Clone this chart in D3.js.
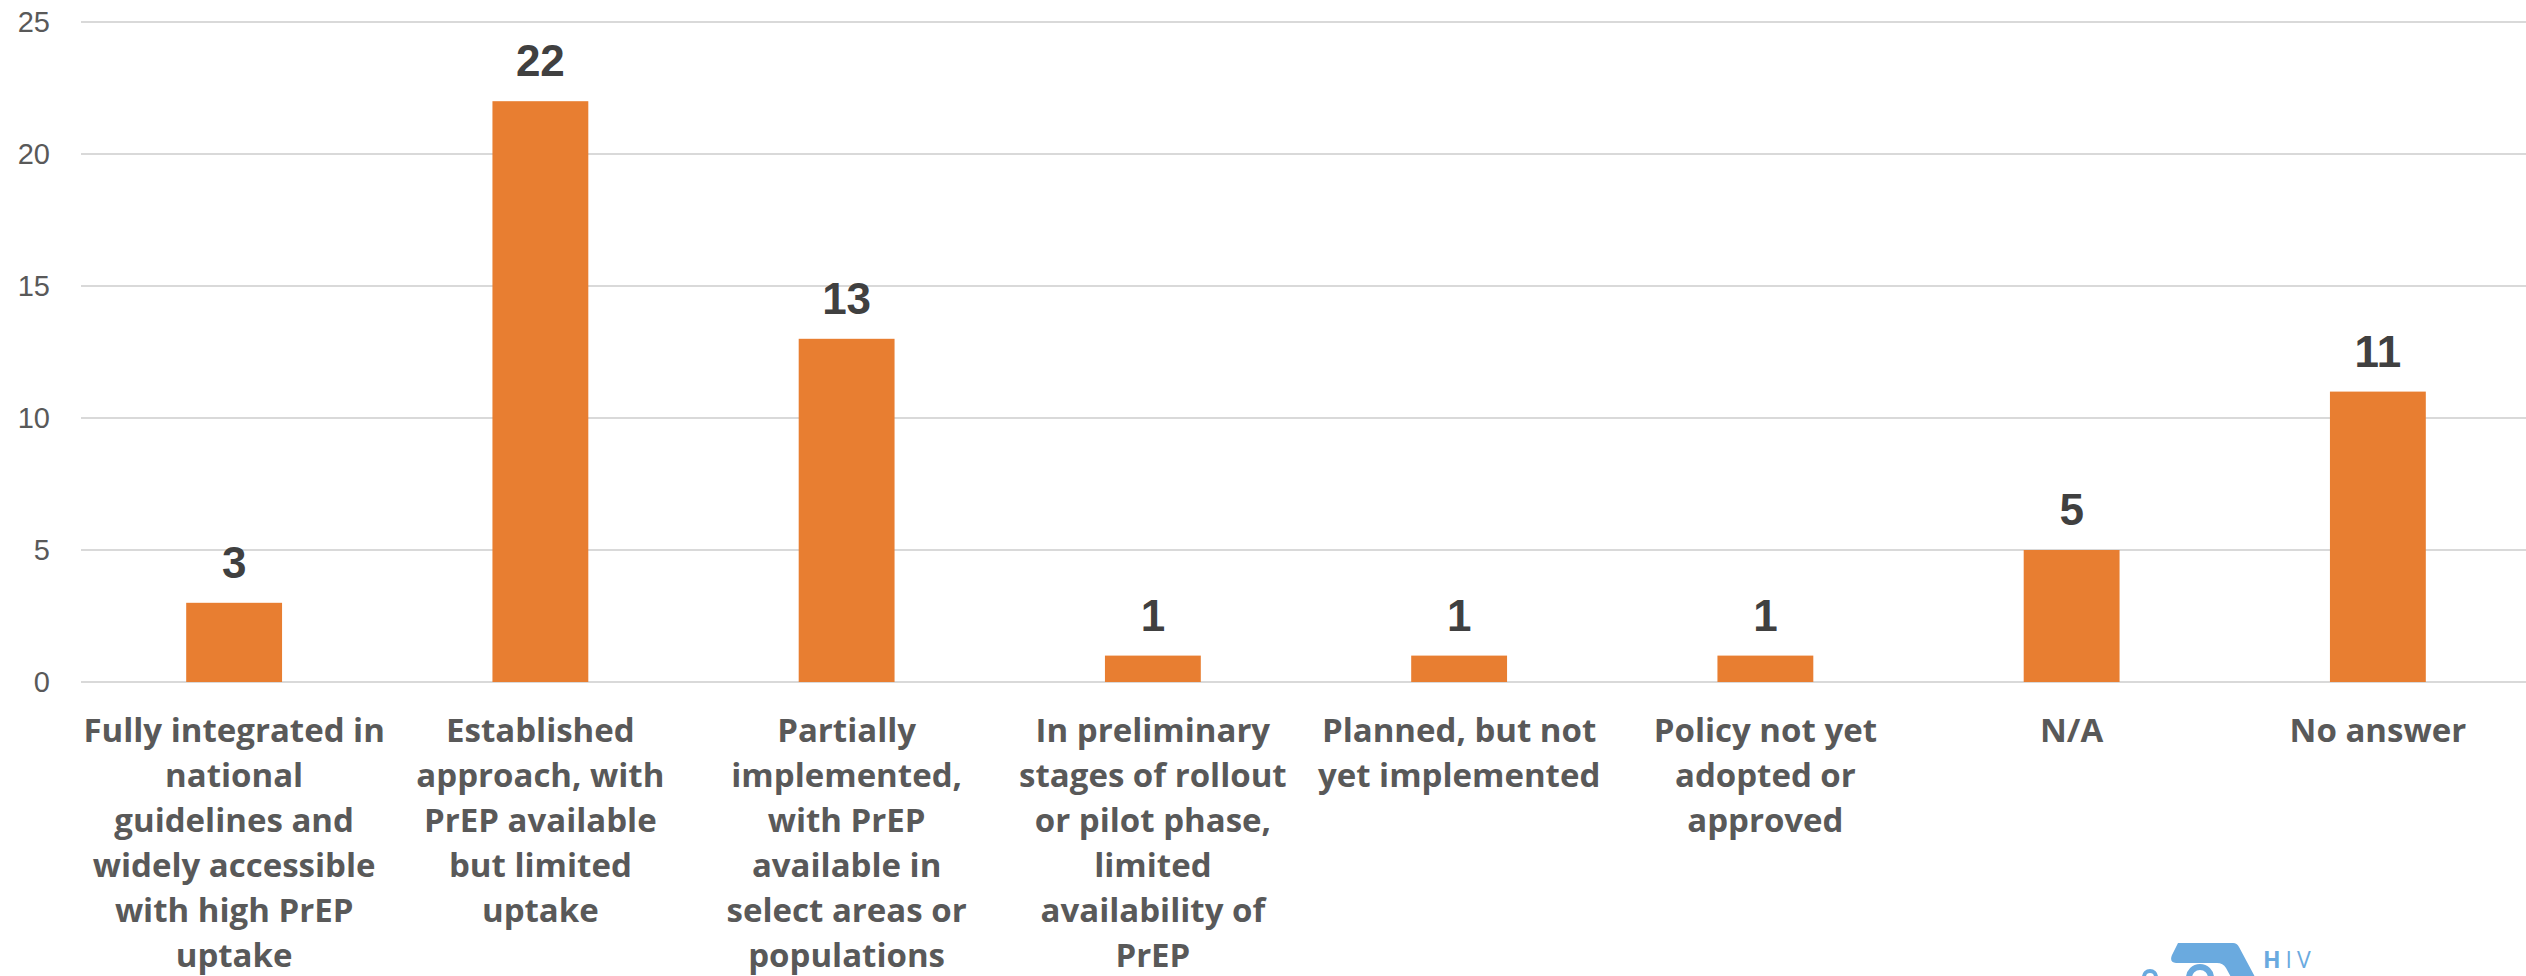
<!DOCTYPE html>
<html>
<head>
<meta charset="utf-8">
<script src="https://cdn.jsdelivr.net/npm/d3@7"></script>
<style>
  html, body { margin: 0; padding: 0; background: #ffffff; }
  svg { display: block; }
</style>
</head>
<body>
<svg id="chart" width="2526" height="976"></svg>
<script>
// PrEP implementation status: number of responses per category
const categoryLines = [
  ["Fully integrated in", "national", "guidelines and", "widely accessible", "with high PrEP", "uptake"],
  ["Established", "approach, with", "PrEP available", "but limited", "uptake"],
  ["Partially", "implemented,", "with PrEP", "available in", "select areas or", "populations"],
  ["In preliminary", "stages of rollout", "or pilot phase,", "limited", "availability of", "PrEP"],
  ["Planned, but not", "yet implemented"],
  ["Policy not yet", "adopted or", "approved"],
  ["N/A"],
  ["No answer"]
];
const counts = [3, 22, 13, 1, 1, 1, 5, 11];
const yTicks = [0, 5, 10, 15, 20, 25];

const svg = d3.select("#chart");
const W = 2526, H = 976;
const plotLeft = 81, plotRight = 2531, plotTop = 22, plotBottom = 682;

const x = d3.scaleBand()
  .domain(d3.range(counts.length))
  .range([plotLeft, plotRight])
  .paddingInner(0.687)
  .paddingOuter(0.3435);

const y = d3.scaleLinear().domain([0, 25]).range([plotBottom, plotTop]);

// horizontal gridlines
svg.append("g")
  .selectAll("line")
  .data(yTicks)
  .join("line")
  .attr("x1", plotLeft).attr("x2", W)
  .attr("y1", d => y(d)).attr("y2", d => y(d))
  .attr("stroke", "#d9d9d9")
  .attr("stroke-width", 2);

// y axis tick labels
svg.append("g")
  .selectAll("text")
  .data(yTicks)
  .join("text")
  .attr("x", 50)
  .attr("y", d => y(d))
  .attr("dy", "0.36em")
  .attr("text-anchor", "end")
  .attr("font-family", "'Liberation Sans', Arial, sans-serif")
  .attr("font-size", 29)
  .attr("fill", "#595959")
  .text(d => d);

// bars
svg.append("g")
  .selectAll("rect")
  .data(counts)
  .join("rect")
  .attr("x", (d, i) => x(i))
  .attr("width", x.bandwidth())
  .attr("y", d => y(d))
  .attr("height", d => y(0) - y(d))
  .attr("fill", "#e87e31");

// value labels above bars
svg.append("g")
  .selectAll("text")
  .data(counts)
  .join("text")
  .attr("x", (d, i) => x(i) + x.bandwidth() / 2)
  .attr("y", d => y(d) - 25)
  .attr("text-anchor", "middle")
  .attr("font-family", "'Liberation Sans', Arial, sans-serif")
  .attr("font-weight", "bold")
  .attr("font-size", 44)
  .attr("fill", "#404040")
  .text(d => d);

// category labels, one tspan per line
const cat = svg.append("g")
  .selectAll("text")
  .data(categoryLines)
  .join("text")
  .attr("text-anchor", "middle")
  .attr("font-family", "'Open Sans', sans-serif")
  .attr("font-weight", "bold")
  .attr("font-size", 33)
  .attr("fill", "#595959");

cat.each(function(lines, i) {
  const cx = x(i) + x.bandwidth() / 2;
  d3.select(this).selectAll("tspan")
    .data(lines)
    .join("tspan")
    .attr("x", cx)
    .attr("y", (d, k) => 742 + k * 45)
    .text(d => d);
});

// logo mark, bottom right (cropped by the page edge)
const logo = svg.append("g").attr("fill", "#6aaadf");
logo.append("path")
  .attr("d", "M2178,943 L2233,943 Q2237,943 2239,947 L2262,990 L2238,990 L2226,968 Q2223,963 2217,963 L2176,963 Q2169,962 2172,955 Z");
logo.append("circle").attr("cx", 2200).attr("cy", 978).attr("r", 11)
  .attr("fill", "none").attr("stroke", "#6aaadf").attr("stroke-width", 6);
logo.append("circle").attr("cx", 2150).attr("cy", 977).attr("r", 6)
  .attr("fill", "none").attr("stroke", "#6aaadf").attr("stroke-width", 4);
logo.append("text")
  .attr("x", 2263).attr("y", 968)
  .attr("font-family", "'Open Sans', sans-serif")
  .attr("font-size", 23)
  .attr("letter-spacing", 5)
  .selectAll("tspan")
  .data([{t: "H", w: "bold"}, {t: "IV", w: "normal"}])
  .join("tspan")
  .attr("font-weight", d => d.w)
  .text(d => d.t);
</script>
</body>
</html>
